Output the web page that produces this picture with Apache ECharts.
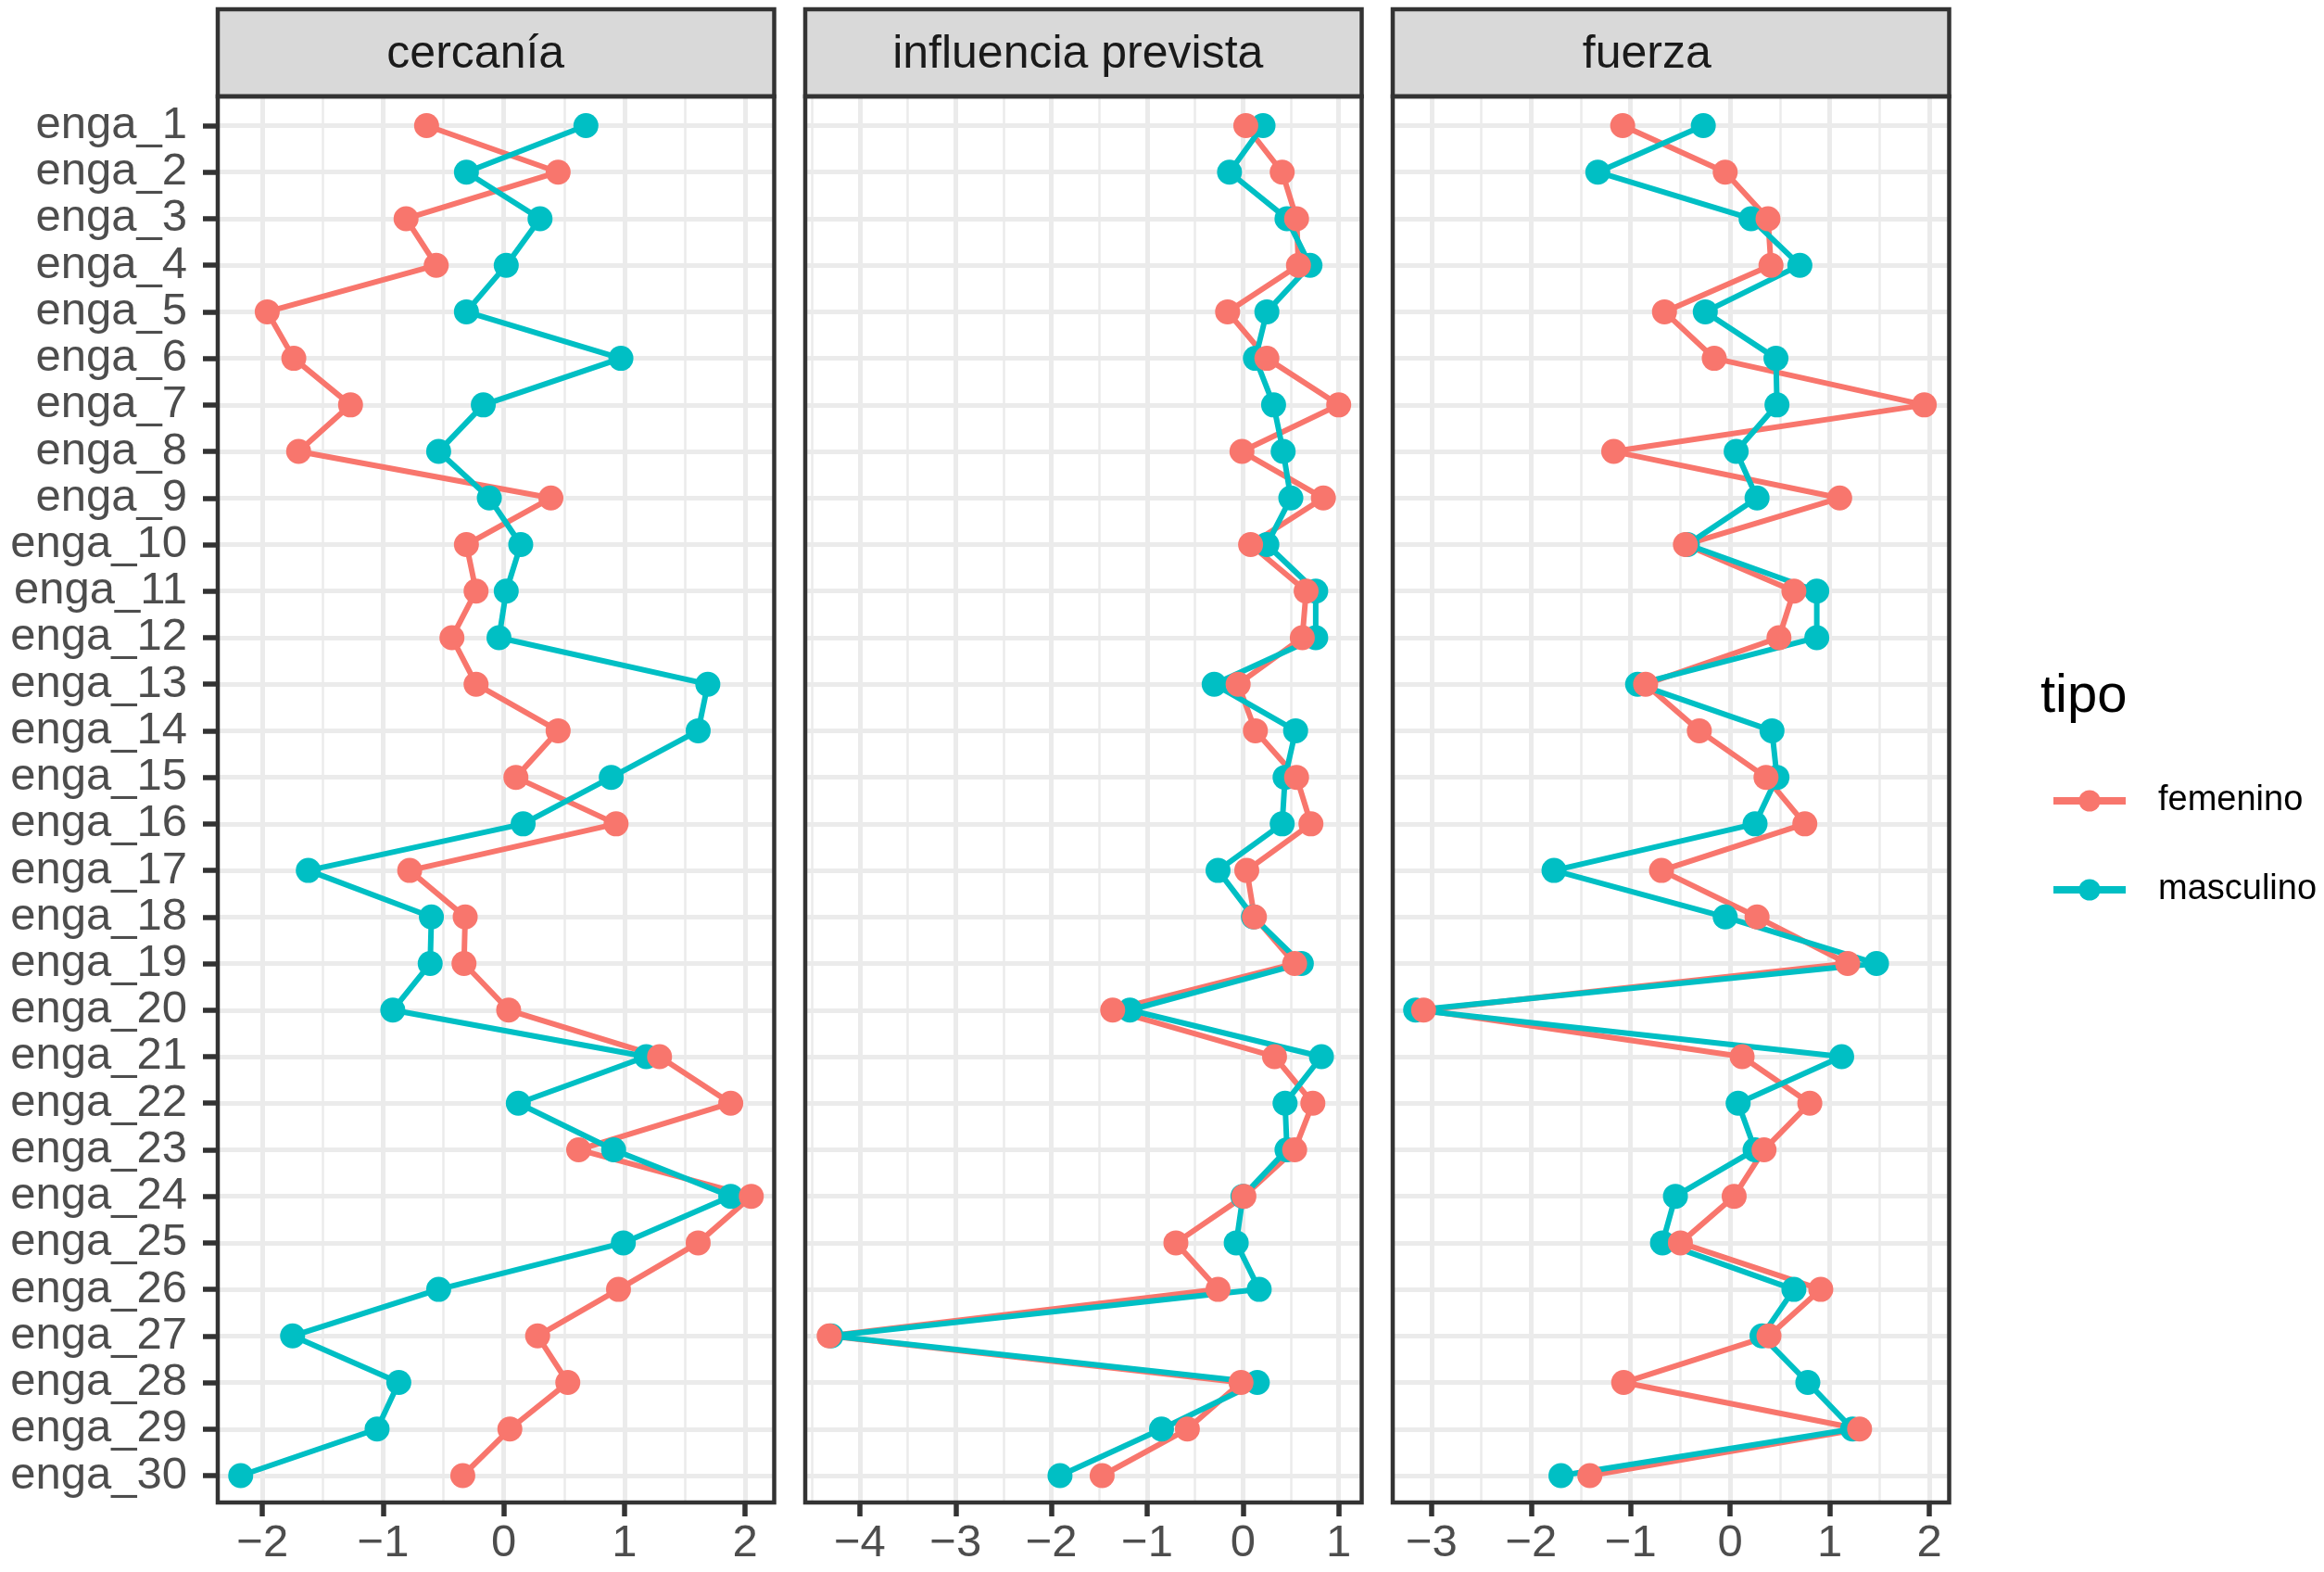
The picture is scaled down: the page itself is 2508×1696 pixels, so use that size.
<!DOCTYPE html>
<html>
<head>
<meta charset="utf-8">
<script src="https://cdn.jsdelivr.net/npm/echarts@6/dist/echarts.min.js"></script>
<style>
html,body{margin:0;padding:0;background:#fff;}
#chart{width:2508px;height:1696px;}
</style>
</head>
<body>
<div id="chart"></div>
<script>
// ---- data ----
const categories = ['enga_1','enga_2','enga_3','enga_4','enga_5','enga_6','enga_7','enga_8','enga_9','enga_10',
  'enga_11','enga_12','enga_13','enga_14','enga_15','enga_16','enga_17','enga_18','enga_19','enga_20',
  'enga_21','enga_22','enga_23','enga_24','enga_25','enga_26','enga_27','enga_28','enga_29','enga_30'];
const groups = ['femenino','masculino'];
const facets = ['cercanía','influencia prevista','fuerza'];

const cercaniaFem  = [-0.64,0.45,-0.81,-0.56,-1.96,-1.74,-1.27,-1.70,0.39,-0.31,-0.23,-0.43,-0.23,0.45,0.10,0.93,-0.78,-0.32,-0.33,0.04,1.29,1.88,0.62,2.05,1.61,0.95,0.28,0.53,0.05,-0.34];
const cercaniaMasc = [0.68,-0.31,0.30,0.02,-0.31,0.97,-0.17,-0.54,-0.12,0.14,0.02,-0.04,1.69,1.61,0.89,0.16,-1.62,-0.60,-0.61,-0.92,1.18,0.12,0.91,1.88,0.99,-0.54,-1.75,-0.87,-1.05,-2.18];
const influenciaFem  = [0.03,0.41,0.56,0.58,-0.16,0.25,1.00,-0.01,0.84,0.08,0.66,0.62,-0.05,0.13,0.56,0.71,0.04,0.12,0.54,-1.36,0.33,0.73,0.54,0.01,-0.70,-0.26,-4.32,-0.02,-0.58,-1.47];
const influenciaMasc = [0.21,-0.14,0.46,0.70,0.25,0.13,0.32,0.42,0.50,0.25,0.76,0.76,-0.30,0.55,0.44,0.41,-0.26,0.11,0.61,-1.18,0.82,0.44,0.46,0.00,-0.07,0.17,-4.30,0.15,-0.85,-1.91];
const fuerzaFem  = [-1.08,-0.05,0.38,0.41,-0.66,-0.16,1.95,-1.17,1.10,-0.45,0.64,0.49,-0.85,-0.31,0.36,0.75,-0.69,0.27,1.18,-3.08,0.12,0.80,0.34,0.04,-0.50,0.91,0.39,-1.07,1.30,-1.41];
const fuerzaMasc = [-0.27,-1.33,0.21,0.70,-0.25,0.46,0.47,0.06,0.27,-0.43,0.87,0.87,-0.93,0.42,0.47,0.25,-1.77,-0.05,1.47,-3.16,1.12,0.08,0.25,-0.55,-0.68,0.64,0.32,0.78,1.23,-1.70];

const xTicks1 = [-2,-1,0,1,2];
const xTicks2 = [-4,-3,-2,-1,0,1];
const xTicks3 = [-3,-2,-1,0,1,2];
const xRange1 = [-2.37, 2.24];
const xRange2 = [-4.57, 1.24];
const xRange3 = [-3.39, 2.20];

// ---- layout / style ----
const FONT = 'Liberation Sans, Arial, sans-serif';
const colors = {femenino:'#F8766D', masculino:'#00BFC4'};
const panelLefts = [235, 869, 1503];
const stripDx = [-22, -6, -26];
const panelW = 600.5;
const panelTop = 104, panelH = 1517;
const stripTop = 10;
const rowTop = 135.5;
const rowH = 1456.5;

const panels = [
  {name: facets[0], fem: cercaniaFem, masc: cercaniaMasc, ticks: xTicks1, range: xRange1},
  {name: facets[1], fem: influenciaFem, masc: influenciaMasc, ticks: xTicks2, range: xRange2},
  {name: facets[2], fem: fuerzaFem, masc: fuerzaMasc, ticks: xTicks3, range: xRange3}
];

const fmt = v => (v < 0 ? '\u2212' + Math.abs(v) : String(v));

const grid = [], xAxis = [], yAxis = [], series = [], graphic = [];
panels.forEach((p, i) => {
  const L = panelLefts[i];
  grid.push({left: L, top: panelTop, width: panelW, height: panelH, outerBoundsMode: 'none', containLabel: false});
  grid.push({left: L, top: rowTop, width: panelW, height: rowH, outerBoundsMode: 'none', containLabel: false});
  const gA = 2*i, gB = 2*i+1;
  xAxis.push({
    type: 'value', gridIndex: gA, min: p.range[0], max: p.range[1], position: 'bottom',
    axisLine: {show: false, onZero: false},
    axisTick: {show: true, customValues: p.ticks, length: 15, lineStyle: {color: '#333333', width: 5.5}},
    axisLabel: {show: true, customValues: p.ticks, formatter: fmt, fontSize: 49, fontFamily: FONT, color: '#4D4D4D', margin: 20},
    splitLine: {show: true, lineStyle: {color: '#EBEBEB', width: 5}},
    minorTick: {show: false, splitNumber: 2},
    minorSplitLine: {show: true, lineStyle: {color: '#EBEBEB', width: 2.5}}
  });
  yAxis.push({type: 'value', gridIndex: gA, show: false, min: 0, max: 1});
  xAxis.push({type: 'value', gridIndex: gB, min: p.range[0], max: p.range[1], show: false, splitLine: {show: false}});
  yAxis.push({
    type: 'category', gridIndex: gB, data: categories, inverse: true, boundaryGap: false, position: 'left',
    axisLine: {show: false, onZero: false},
    axisTick: {show: i === 0, interval: 0, length: 16, lineStyle: {color: '#333333', width: 5.5}},
    axisLabel: {show: i === 0, interval: 0, fontSize: 49, fontFamily: FONT, color: '#4D4D4D', margin: 33},
    splitLine: {show: true, interval: 0, lineStyle: {color: '#EBEBEB', width: 5}}
  });
  const mk = vals => vals.map((v, k) => [v, categories[k]]);
  const lineS = (name, vals, z) => ({
    type: 'line', name: name, xAxisIndex: gB, yAxisIndex: gB, data: mk(vals),
    symbol: 'circle', showSymbol: false, symbolSize: 27,
    lineStyle: {color: colors[name], width: 6}, itemStyle: {color: colors[name]},
    z: z, silent: true, animation: false
  });
  const ptS = (name, vals, z) => ({
    type: 'scatter', name: name + '_pts', xAxisIndex: gB, yAxisIndex: gB, data: mk(vals),
    symbol: 'circle', symbolSize: 27, itemStyle: {color: colors[name], opacity: 1},
    z: z, silent: true, animation: false
  });
  series.push(lineS('femenino', p.fem, 3));
  series.push(lineS('masculino', p.masc, 4));
  series.push(ptS('masculino', p.masc, 5));
  series.push(ptS('femenino', p.fem, 6));

  graphic.push({type: 'rect', z: 100, shape: {x: L, y: stripTop, width: panelW, height: panelTop - stripTop},
    style: {fill: '#D9D9D9', stroke: '#333333', lineWidth: 4.5}});
  graphic.push({type: 'text', z: 101, x: L + panelW/2 + stripDx[i], y: (stripTop + panelTop)/2 + 2,
    style: {text: p.name, fill: '#1A1A1A', font: '50px ' + FONT, textAlign: 'center', textVerticalAlign: 'middle'}});
  graphic.push({type: 'rect', z: 100, shape: {x: L, y: panelTop, width: panelW, height: panelH},
    style: {fill: 'none', stroke: '#333333', lineWidth: 4.5}});
});

const chart = echarts.init(document.getElementById('chart'), null, {renderer: 'canvas'});
chart.setOption({
  animation: false,
  backgroundColor: '#ffffff',
  title: {text: 'tipo', left: 2197, top: 718, textStyle: {fontSize: 58, fontWeight: 'normal', fontFamily: FONT, color: '#000000'}},
  legend: {
    data: groups, orient: 'vertical', left: 2207, top: 840,
    itemWidth: 78, itemHeight: 29, itemGap: 58,
    lineStyle: {width: 8},
    textStyle: {fontSize: 38, fontFamily: FONT, color: '#000000', padding: [0, 0, 0, 30]},
    selectedMode: false
  },
  grid: grid, xAxis: xAxis, yAxis: yAxis, series: series, graphic: graphic
});
</script>
</body>
</html>
